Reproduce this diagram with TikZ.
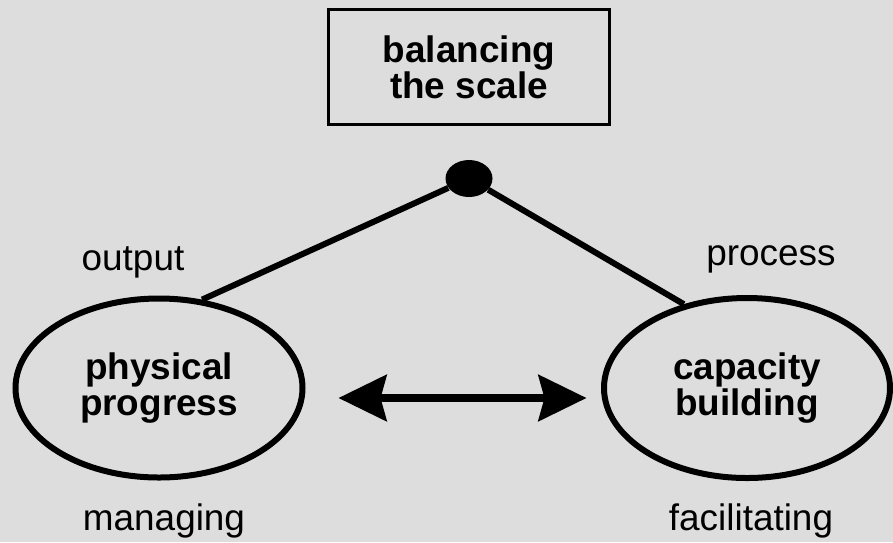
\documentclass[tikz,border=0pt]{standalone}
\usepackage{fontspec}
\setmainfont{Liberation Sans}
\usetikzlibrary{shapes.geometric,arrows.meta}
\definecolor{bggray}{RGB}{221,221,221}
\tikzset{
  labeltext/.style={font=\fontsize{21pt}{20.5pt}\selectfont, align=center, inner sep=0pt},
  boldtext/.style={labeltext, font=\fontsize{21pt}{20.5pt}\selectfont\bfseries},
  oval/.style={ellipse, draw, line width=0.12cm, inner sep=0pt, boldtext},
  pivot/.style={ellipse, fill, inner sep=0pt, minimum width=0.94cm, minimum height=0.74cm},
  beam/.style={line width=0.12cm},
  biarrow/.style={line width=0.15cm, {Stealth[length=0.96cm,width=0.92cm,inset=0.12cm]}-{Stealth[length=0.96cm,width=0.92cm,inset=0.12cm]}}
}
\begin{document}
\begin{tikzpicture}
  \fill[bggray] (0,0) rectangle (17.86,-10.84);

  \node[boldtext, draw, line width=0.07cm, minimum width=5.62cm, minimum height=2.3cm] (scale) at (9.38,-1.34) {balancing\\the scale};
  \node[pivot] (dot) at (9.38,-3.57) {};

  \node[oval, minimum width=5.74cm, minimum height=3.58cm] (phys) at (3.18,-7.76) {physical\\progress};
  \node[oval, minimum width=5.72cm, minimum height=3.6cm] (cap) at (14.94,-7.76) {capacity\\building};

  \node[labeltext, anchor=base] (output) at (2.66,-5.40) {output};
  \node[labeltext, anchor=base] (process) at (15.42,-5.30) {process};
  \node[labeltext, anchor=base] (managing) at (3.28,-10.60) {managing};
  \node[labeltext, anchor=base] (facil) at (15.02,-10.60) {facilitating};

  \draw[beam] (dot) -- (phys.64.5);
  \draw[beam] (dot) -- (cap.127);

  \draw[biarrow, shorten <=0.66cm, shorten >=0.29cm] ([yshift=-0.2cm]phys.east) -- ([yshift=-0.2cm]cap.west);
\end{tikzpicture}
\end{document}
